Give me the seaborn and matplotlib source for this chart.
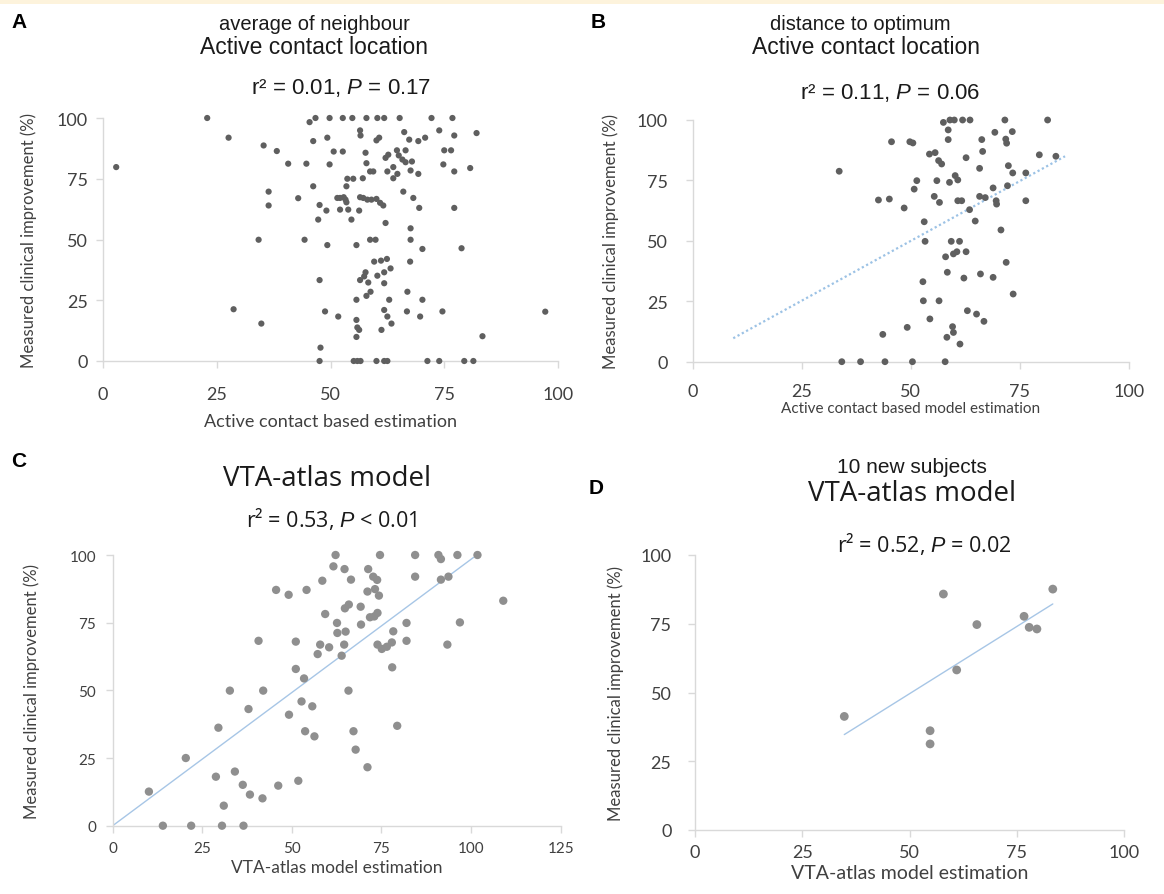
import numpy as np
import pandas as pd
import matplotlib
matplotlib.use("Agg")
import matplotlib.pyplot as plt
from matplotlib.patches import Rectangle
import seaborn as sns

# ---------------- data ----------------
a_x = [22.9, 46.7, 49.8, 52.7, 54.8, 57.9, 60.3, 61.8, 65.2, 72.2, 76.8, 45.4,
       56.5, 56.6, 49.3, 46.2, 60.1, 60.7, 66.2, 67.3, 69.3, 70.8, 73.9, 77.2, 27.6, 82.1,
       35.3, 38.2, 50.7, 52.7, 57.7, 62.1, 62.7, 64.6, 66.5, 65.0, 65.8, 66.5, 67.9, 75.0, 76.5,
       2.9, 40.7, 44.7, 49.8, 57.9, 58.7, 59.4, 62.5, 63.8, 64.7, 63.8, 67.6, 69.3, 74.8, 77.2, 80.7,
       53.7, 55.0, 57.1, 46.2, 53.5,
       36.4, 36.4, 42.9, 51.5, 52.1, 52.9, 53.3, 53.5, 56.5, 57.2, 58.1, 59.0, 60.1, 60.9, 61.6, 66.0, 68.2, 69.5, 77.2,
       47.6, 49.1, 52.1, 53.9, 56.3, 47.3, 54.6, 62.1,
       34.2, 44.3, 49.3, 55.7, 58.7, 59.9, 67.6, 67.6, 70.2, 78.8,
       59.6, 61.1, 62.4, 67.5, 63.2, 57.7, 56.5, 57.4, 61.8, 60.3, 58.3, 61.8, 47.6,
       55.7, 57.9, 58.8, 62.9, 66.9, 70.2, 28.7, 48.8, 51.7, 61.8, 62.5, 66.8, 69.7, 74.6, 34.8, 97.2,
       55.7, 55.9, 56.3, 55.7, 61.2, 63.4, 83.4,
       47.8,
       47.6, 55.1, 55.9, 56.6, 60.1, 61.8, 62.5, 71.3, 73.9, 79.4, 81.4]
a_y = [100, 100, 100, 100, 100, 100, 100, 100, 100, 100, 100, 98.3,
       94.9, 92.8, 91.9, 90.5, 90.8, 91.9, 94.2, 91.1, 90.5, 91.9, 94.9, 92.8, 91.9, 93.8,
       88.7, 86.4, 86.2, 86.2, 85.7, 83.6, 84.9, 86.7, 86.7, 84.6, 82.9, 81.8, 82.1, 86.7, 86.7,
       79.8, 81.2, 81.2, 80.9, 81.4, 78.0, 78.0, 78.0, 79.8, 77.0, 75.2, 78.4, 77.0, 80.9, 78.0, 79.4,
       75.0, 75.0, 75.2, 71.9, 71.9,
       69.7, 64.0, 67.0, 67.1, 67.1, 67.4, 66.4, 65.3, 67.4, 67.1, 66.4, 66.4, 66.7, 65.1, 64.0, 69.7, 67.1, 63.0, 63.0,
       64.2, 61.9, 62.3, 62.3, 61.9, 58.2, 58.2, 56.8,
       49.9, 49.9, 47.7, 47.7, 49.9, 49.9, 54.6, 49.9, 46.1, 46.4,
       40.9, 41.3, 42.0, 40.9, 38.1, 36.5, 33.3, 34.8, 36.5, 35.1, 32.3, 32.0, 33.3,
       25.2, 26.8, 28.5, 25.2, 28.5, 25.2, 21.3, 20.4, 18.3, 21.0, 18.3, 20.4, 18.3, 20.4, 15.4, 20.3,
       16.9, 13.8, 12.8, 9.9, 12.8, 15.4, 10.2,
       5.5,
       0, 0, 0, 0, 0, 0, 0, 0, 0, 0, 0]

b_x = [59.0, 60.0, 61.9, 63.6, 71.6, 81.4, 57.5, 58.6, 58.6,
       45.6, 49.8, 50.5, 66.3, 66.5, 62.7, 65.8, 54.3, 55.6, 56.4, 57.1, 33.6, 69.3, 73.3, 71.8, 72.0, 79.5, 83.3,
       60.2, 60.8, 58.9, 56.0, 51.4, 50.8, 42.6, 45.1, 48.5, 55.4, 56.6, 60.8, 61.7, 65.8, 67.1, 63.5, 64.8,
       72.4, 73.4, 76.4, 68.9, 72.2, 69.6, 69.7, 76.4,
       53.1, 53.3, 59.3, 61.2, 58.0, 59.8, 60.6, 62.7, 58.4, 62.2, 66.0, 52.8, 70.7, 71.9, 68.9, 73.5,
       52.9, 56.5, 54.4, 63.0, 65.1, 66.8, 49.2, 43.6, 59.6, 59.8, 58.3, 61.3,
       34.2, 38.5, 44.1, 50.4, 57.9]
b_y = [100, 100, 100, 100, 100, 100, 99.0, 95.9, 91.9,
       91.0, 91.0, 90.5, 91.9, 87.0, 84.4, 80.0, 85.9, 86.5, 83.2, 81.8, 78.8, 94.9, 95.2, 92.1, 90.4, 85.6, 85.0,
       77.0, 75.2, 74.2, 74.9, 74.9, 71.4, 66.9, 67.3, 63.6, 68.4, 65.9, 66.6, 66.6, 68.4, 67.9, 62.9, 58.2,
       81.1, 78.1, 78.1, 71.9, 72.8, 66.6, 65.2, 66.6,
       57.9, 49.8, 49.8, 49.8, 43.4, 44.6, 45.5, 45.5, 37.0, 34.6, 36.3, 33.1, 54.5, 41.1, 34.9, 28.0,
       25.2, 25.2, 17.7, 21.1, 19.7, 16.7, 14.2, 11.3, 14.5, 12.1, 10.1, 7.3,
       0, 0, 0, 0, 0]
b_trend_x = [9.3, 85.4]
b_trend_y = [9.7, 85.0]

c_x = [62.2, 74.6, 84.4, 90.9, 91.6, 96.2, 101.8,
       61.6, 64.7, 71.3, 72.7, 73.8, 58.5, 66.5, 84.4, 91.6, 93.7,
       45.6, 49.1, 54.1, 71.1, 73.2, 74.3, 59.3, 64.8, 65.9, 69.2, 71.8, 73.0, 73.9, 62.6, 62.7, 65.0, 69.3, 82.0, 96.9, 78.3,
       40.7, 51.1, 57.9, 60.4, 57.2, 63.9, 64.6, 73.9, 75.1, 76.5, 77.9, 82.0, 93.4,
       51.1, 53.4, 78.0, 32.7, 42.0, 65.8, 52.7, 55.7, 37.9, 49.2, 29.5, 53.7, 56.3, 67.2, 67.8, 79.4, 71.1,
       20.4, 10.1, 28.8, 34.1, 36.3, 38.3, 41.8, 46.2, 51.8, 31.0,
       14.0, 21.9, 30.5, 36.5, 109.0]
c_y = [100, 100, 100, 100, 98.5, 100, 100,
       95.8, 94.8, 94.8, 92.0, 90.8, 90.5, 90.9, 92.0, 90.9, 92.0,
       87.1, 85.3, 87.1, 86.5, 87.4, 85.0, 78.2, 80.3, 81.7, 80.9, 77.0, 77.3, 78.6, 74.9, 71.2, 71.7, 74.3, 74.9, 75.1, 71.8,
       68.3, 68.0, 66.9, 65.9, 63.4, 62.8, 66.9, 66.9, 65.3, 66.1, 67.7, 68.3, 66.9,
       57.9, 54.4, 58.5, 49.9, 49.9, 49.9, 45.9, 44.1, 43.1, 41.0, 36.2, 34.9, 33.0, 34.9, 28.1, 36.9, 21.6,
       25.0, 12.6, 18.1, 20.0, 15.1, 11.5, 10.1, 14.8, 16.6, 7.4,
       0, 0, 0, 0, 83.1]
c_trend_x = [0.0, 100.7]
c_trend_y = [0.0, 99.1]

d_x = [34.8, 54.8, 54.8, 57.9, 61.0, 65.7, 76.7, 77.9, 79.7, 83.4]
d_y = [41.3, 36.1, 31.3, 85.8, 58.2, 74.7, 77.7, 73.7, 73.1, 87.6]
d_trend_x = [34.8, 83.4]
d_trend_y = [34.7, 82.2]

ticks_100 = [0, 25, 50, 75, 100]
ticks_125 = [0, 25, 50, 75, 100, 125]

# ---------------- style ----------------
sns.set_theme(style="white")
plt.rcParams["font.family"] = ["Lato", "DejaVu Sans"]
plt.rcParams["mathtext.fontset"] = "custom"
plt.rcParams["mathtext.it"] = "Liberation Sans:italic"
plt.rcParams["mathtext.rm"] = "Liberation Sans"

W, H = 1164, 895
fig = plt.figure(figsize=(W / 100, H / 100), dpi=100)
fig.patch.set_facecolor("white")
fig.patches.append(Rectangle((0, 1 - 5 / H), 1, 5 / H, transform=fig.transFigure,
                             facecolor="#fdf3dc", edgecolor="none", zorder=0))

SPINE = "#d9d9d9"
TXT = "#404040"
DARK = "#5f5f5f"
LIGHT = "#8f8f8f"
BLUE = "#a7c6e6"


def make_ax(l, r, t, b):
    return fig.add_axes([l / W, 1 - b / H, (r - l) / W, (b - t) / H])


def style(ax, xticks, xlim, tick_size, xpad, ypad):
    ax.set_xlim(*xlim)
    ax.set_ylim(0, 100)
    ax.set_xticks(xticks)
    ax.set_yticks(ticks_100)
    for s in ["top", "right"]:
        ax.spines[s].set_visible(False)
    for s in ["left", "bottom"]:
        ax.spines[s].set_color(SPINE)
        ax.spines[s].set_linewidth(1.0)
    ax.tick_params(axis="both", which="both", direction="out", length=5, width=1,
                   color=SPINE, labelcolor=TXT, labelsize=tick_size, left=True, bottom=True)
    ax.tick_params(axis="x", pad=xpad)
    ax.tick_params(axis="y", pad=ypad)
    ax.set_facecolor("none")


def ftext(x, y, s, **kw):
    fig.text(x / W, 1 - y / H, s, ha="center", va="center", **kw)


# ---------------- Panel A ----------------
axA = make_ax(103, 558, 119, 362)
sns.scatterplot(x=a_x, y=a_y, ax=axA, color=DARK, s=20, edgecolor="none",
                linewidth=0, clip_on=False, legend=False, zorder=3)
style(axA, ticks_100, (0, 100), 13, 13, 6)
axA.set_xlabel("Active contact based estimation", fontsize=13, color=TXT, labelpad=8)
axA.set_ylabel("Measured clinical improvement (%)", fontsize=12, color=TXT, labelpad=14)

# ---------------- Panel B ----------------
axB = make_ax(692.7, 1128.7, 121, 362.7)
sns.scatterplot(x=b_x, y=b_y, ax=axB, color=DARK, s=24, edgecolor="none",
                linewidth=0, clip_on=False, legend=False, zorder=3)
axB.plot(b_trend_x, b_trend_y, color="#9cc2e5", lw=1.6, ls=(0, (1, 1.2)), zorder=2)
style(axB, ticks_100, (0, 100), 13, 10, 13)
axB.set_xlabel("Active contact based model estimation", fontsize=11, color=TXT, labelpad=2)
axB.set_ylabel("Measured clinical improvement (%)", fontsize=12, color=TXT, labelpad=13)

# ---------------- Panel C ----------------
axC = make_ax(112.7, 560.6, 556, 826.7)
sns.scatterplot(x=c_x, y=c_y, ax=axC, color=LIGHT, s=36, edgecolor="none",
                linewidth=0, clip_on=False, legend=False, zorder=3)
axC.plot(c_trend_x, c_trend_y, color=BLUE, lw=1.0, zorder=2)
style(axC, ticks_125, (0, 125), 11, 6, 7)
axC.set_xlabel("VTA-atlas model estimation", fontsize=12.5, color=TXT, labelpad=3)
axC.set_ylabel("Measured clinical improvement (%)", fontsize=12, color=TXT, labelpad=21)

# ---------------- Panel D ----------------
axD = make_ax(695, 1124, 556, 831)
sns.scatterplot(x=d_x, y=d_y, ax=axD, color=LIGHT, s=40, edgecolor="none",
                linewidth=0, clip_on=False, legend=False, zorder=3)
axD.plot(d_trend_x, d_trend_y, color=BLUE, lw=1.0, zorder=2)
style(axD, ticks_100, (0, 100), 13, 5, 12)
axD.set_xlabel("VTA-atlas model estimation", fontsize=14, color=TXT, labelpad=3)
axD.set_ylabel("Measured clinical improvement (%)", fontsize=12, color=TXT, labelpad=12)

# ---------------- titles / annotations ----------------
ARIAL = ["Liberation Sans", "DejaVu Sans"]
OPEN = ["Open Sans", "DejaVu Sans"]
INK = "#1a1a1a"

ftext(19, 23, "A", fontsize=15, fontweight="bold", family=ARIAL, color="black")
ftext(598, 23, "B", fontsize=15, fontweight="bold", family=ARIAL, color="black")
ftext(19, 462, "C", fontsize=15, fontweight="bold", family=ARIAL, color="black")
ftext(596, 489, "D", fontsize=15, fontweight="bold", family=ARIAL, color="black")

ftext(314, 24, "average of neighbour", fontsize=14.5, family=ARIAL, color=INK)
ftext(314, 47, "Active contact location", fontsize=16.5, family=ARIAL, color=INK)
ftext(341, 88, r"r² = 0.01, $\mathit{P}$ = 0.17", fontsize=16, family=ARIAL, color=INK)

ftext(860, 24, "distance to optimum", fontsize=14.5, family=ARIAL, color=INK)
ftext(866, 47, "Active contact location", fontsize=16.5, family=ARIAL, color=INK)
ftext(890, 93, r"r² = 0.11, $\mathit{P}$ = 0.06", fontsize=16, family=ARIAL, color=INK)

ftext(327, 479, "VTA-atlas model", fontsize=20, family=OPEN, color=INK)
ftext(331, 519, r"r² = 0.53, $\mathit{P}$ < 0.01", fontsize=15.5, family=OPEN, color=INK)

ftext(912, 468, "10 new subjects", fontsize=15, family=ARIAL, color=INK)
ftext(912, 494, "VTA-atlas model", fontsize=20, family=OPEN, color=INK)
ftext(924, 544, r"r² = 0.52, $\mathit{P}$ = 0.02", fontsize=15.5, family=OPEN, color=INK)

fig.savefig("out.png", dpi=100)
